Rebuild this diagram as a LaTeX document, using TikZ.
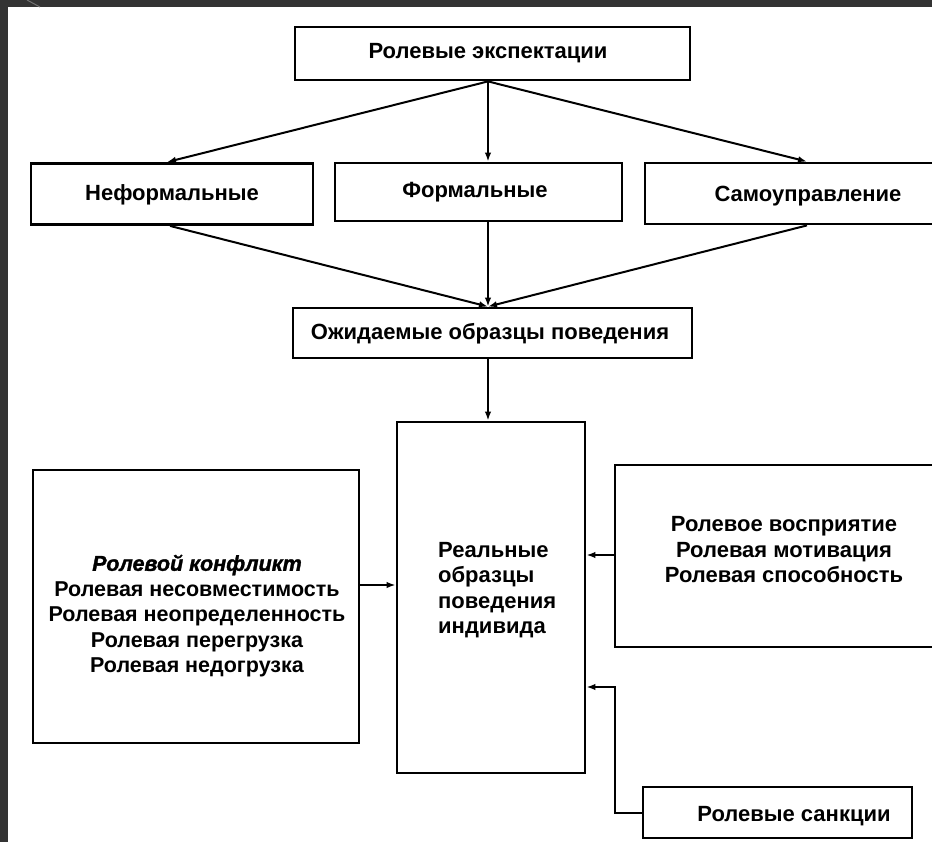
\documentclass[tikz,border=0pt]{standalone}
\usepackage{fontspec}
\setmainfont{Liberation Sans}
\newfontface\bifont{Liberation Sans Bold Italic}[FakeBold=1.5]
\usetikzlibrary{arrows.meta,calc}
\begin{document}
\begin{tikzpicture}[x=1pt,y=-1pt,
  box/.style={draw=black,line width=2.8pt,fill=white,inner sep=0pt},
  txt/.style={font=\bfseries\fontsize{22}{25.5}\selectfont,inner sep=0pt,align=center},
  arr/.style={line width=2pt,-{Latex[length=9pt,width=6.5pt]}},
]
\useasboundingbox (0,0) rectangle (932,842);
\fill[black!80] (0,0) rectangle (932,842);
\fill[white] (8,7) rectangle (932,842);
\draw[black!55,line width=1pt] (27,0) -- (40,7);

% boxes
\node[box,minimum width=395,minimum height=53] (top) at (492.5,53.5) {};
\node[txt] (topT) at (488,53) {Ролевые экспектации};

\node[box,minimum width=282,minimum height=61] (inf) at (172,194) {};
\node[txt] (infT) at (172,195) {Неформальные};

\node[box,minimum width=287,minimum height=58] (form) at (478.5,192) {};
\node[txt] (formT) at (475,192) {Формальные};

\node[box,minimum width=291,minimum height=61] (self) at (790.5,193.5) {};
\node[txt] (selfT) at (808,196) {Самоуправление};

\node[box,minimum width=399,minimum height=50] (exp) at (492.5,333) {};
\node[txt] (expT) at (490,334) {Ожидаемые образцы поведения};

\node[box,minimum width=188,minimum height=351] (real) at (491,597.5) {};
\node[txt,align=left,anchor=west] (realT) at (438,590) {Реальные\\образцы\\поведения\\индивида};

\node[box,minimum width=326,minimum height=273] (left) at (196,606.5) {};
\node[txt,font=\bfseries\fontsize{21.5}{25.5}\selectfont] (leftT) at (197,616)
  {{\bifont Ролевой конфликт}\\Ролевая несовместимость\\Ролевая неопределенность\\Ролевая перегрузка\\Ролевая недогрузка};

\node[box,minimum width=321,minimum height=182] (right) at (775.5,556) {};
\node[txt] (rightT) at (784,550) {Ролевое восприятие\\Ролевая мотивация\\Ролевая способность};

\node[box,minimum width=269,minimum height=51] (sanc) at (777.5,812.5) {};
\node[txt] (sancT) at (794,816) {Ролевые санкции};

% connectors
\coordinate (t0) at ($(top.south)+(-4.5,0)$);
\draw[arr] (t0) -- ($(inf.north)+(-5,0)$);
\draw[arr] (t0) -- ($(form.north)+(9.5,0)$);
\draw[arr] (t0) -- ($(self.north)+(16.5,0)$);

\coordinate (e0) at ($(exp.north)+(-4.5,0)$);
\draw[arr] ($(inf.south)+(-2,0)$) -- (e0);
\draw[arr] ($(form.south)+(9.5,0)$) -- (e0);
\draw[arr] ($(self.south)+(16.5,0)$) -- (e0);

\draw[arr] ($(exp.south)+(-4.5,0)$) -- ($(real.north)+(-3,0)$);

\draw[arr] ($(left.east)+(0,-21.5)$) coordinate (a1) -- (a1 -| real.west);
\draw[arr] ($(right.west)+(0,-1)$) coordinate (a2) -- (a2 -| real.east);
\draw[arr] (sanc.west) -- ++(-27,0) coordinate (b1) -- ($(b1)+(0,-125.5)$) coordinate (b2) -- (b2 -| real.east);
\end{tikzpicture}
\end{document}
